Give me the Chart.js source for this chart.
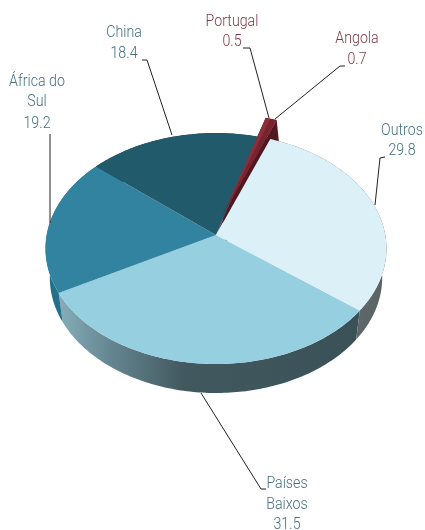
<!DOCTYPE html>
<html><head><meta charset="utf-8">
<style>html,body{margin:0;padding:0;background:#fff}canvas{display:block}</style>
<script src="https://cdn.jsdelivr.net/npm/chart.js@4"></script>
</head><body>
<canvas id="c" width="425" height="530"></canvas>
<script>
const categories = ["Países Baixos","África do Sul","China","Portugal","Angola","Outros"];
const shares = [31.5,19.2,18.4,0.5,0.7,29.8];
const topColors = ["#95cfe0","#31839f","#215a6a","#8e2e3a","#782430","#dcf0f8"];
const pulled = [0,0,0,20,20,0];
const startDeg = 128;

// perspective view of the pie disc
const view = {cx:216, cy:235, a:169.3, b:113.9, k:-0.117, depth:29, baseScale:0.975};
function project(u,v){const w=1+view.k*v;return [view.cx+view.a*u/w, view.cy+view.b*v/w];}

function mapper(el){
  return (x,y)=>project((x-el.x)/el.outerRadius,(y-el.y)/el.outerRadius);
}
function rimPoints(el,lower){
  const pts=[];const n=Math.max(4,Math.ceil((el.endAngle-el.startAngle)*60));
  for(let i=0;i<=n;i++){const t=el.startAngle+(el.endAngle-el.startAngle)*i/n;
    const p=project(Math.cos(t),Math.sin(t));
    pts.push(lower?[view.cx+(p[0]-view.cx)*view.baseScale,p[1]+view.depth]:p);}
  return pts;
}
const labels3d = [
  {lines:["Outros","29.8"],x:402,y:[131,151],c:"#45707f",lead:[[385,157],[380,158],[375,205]]},
  {lines:["Países","Baixos","31.5"],x:287,y:[484,505,525],c:"#45707f",lead:[[266,489],[261,489],[201,393]]},
  {lines:["África do","Sul","19.2"],x:37,y:[82,102,124],c:"#45707f",lead:[[50,134],[50,223]]},
  {lines:["China","18.4"],x:124,y:[33,54],c:"#45707f",lead:[[142,60],[147,60],[172,135]]},
  {lines:["Portugal","0.5"],x:232,y:[22,42],c:"#7a3a45",lead:[[243,48],[250,48],[269,118]]},
  {lines:["Angola","0.7"],x:357,y:[39,60],c:"#7a3a45",lead:[[345,66],[340,66],[275,119]]}
];
function sideFill(ctx,i){
  const name=categories[i];
  if(name==="Países Baixos"){const g=ctx.createLinearGradient(58,0,358,0);
    g.addColorStop(0,"#86aebb");g.addColorStop(.18,"#64858f");g.addColorStop(.42,"#42585f");g.addColorStop(1,"#3a5158");return g;}
  if(name==="Outros"){const g=ctx.createLinearGradient(358,0,386,0);
    g.addColorStop(0,"#5e6769");g.addColorStop(1,"#5a6264");return g;}
  if(name==="África do Sul")return "#23708a";
  return "#1c4d5b";
}
const pie3d={
  id:"pie3d",
  beforeDatasetsDraw(chart){
    const ctx=chart.ctx,els=chart.getDatasetMeta(0).data;
    ctx.save();
    els.forEach((el,i)=>{
      if(pulled[i])return;
      const top=rimPoints(el,false),bot=rimPoints(el,true).reverse();
      ctx.beginPath();
      top.concat(bot).forEach((p,j)=>j?ctx.lineTo(p[0],p[1]):ctx.moveTo(p[0],p[1]));
      ctx.closePath();ctx.fillStyle=sideFill(ctx,i);ctx.fill();
    });
    // both pulled wedges share one shift; body left behind, cut face, backing
    const iP=categories.indexOf("Portugal"),iA=categories.indexOf("Angola");
    const a0=els[iP].startAngle,a1=els[iA].endAngle,m=(a0+a1)/2;
    const d=[Math.cos(m)*pulled[iP],Math.sin(m)*pulled[iP]];
    const c=project(0,0),s0=project(Math.cos(a0),Math.sin(a0)),e0=project(Math.cos(a1),Math.sin(a1));
    const tri=(pts,col)=>{ctx.beginPath();pts.forEach((p,j)=>j?ctx.lineTo(p[0],p[1]):ctx.moveTo(p[0],p[1]));ctx.closePath();ctx.fillStyle=col;ctx.fill();};
    tri([c,s0,e0],"#6a2029");
    tri([[c[0]+d[0],c[1]+d[1]],[e0[0]+d[0],e0[1]+d[1]],[e0[0]+d[0]+3,e0[1]+d[1]+view.depth],[c[0]+d[0]+3,c[1]+d[1]+view.depth]],"#4f1820");
    tri([[c[0]+d[0],c[1]+d[1]],[s0[0]+d[0],s0[1]+d[1]],[e0[0]+d[0],e0[1]+d[1]]],"#782430");
    ctx.restore();
    // the library's own arc drawing, seen through the perspective map
    const map=mapper(els[0]);
    const P=CanvasRenderingContext2D.prototype;
    ctx.moveTo=function(x,y){const p=map(x,y);P.moveTo.call(ctx,p[0],p[1]);};
    ctx.lineTo=function(x,y){const p=map(x,y);P.lineTo.call(ctx,p[0],p[1]);};
    ctx.arc=function(x,y,r,s,e,acw){
      const n=Math.max(2,Math.ceil(Math.abs(e-s)*60));
      for(let i=0;i<=n;i++){const t=s+(e-s)*i/n;
        const p=map(x+r*Math.cos(t),y+r*Math.sin(t));P.lineTo.call(ctx,p[0],p[1]);}
    };
    els.forEach((el,i)=>{
      if(!pulled[i]||el.draw!==el.constructor.prototype.draw)return;
      const base=el.constructor.prototype.draw;
      el.draw=function(c2,area){
        c2.save();c2.translate(d[0],d[1]);base.call(el,c2,area);c2.restore();
      };
    });
  },
  afterDatasetsDraw(chart){
    const ctx=chart.ctx;delete ctx.moveTo;delete ctx.lineTo;delete ctx.arc;
  },
  afterDraw(chart){
    const ctx=chart.ctx;ctx.save();
    labels3d.forEach(l=>{
      ctx.beginPath();l.lead.forEach((p,j)=>j?ctx.lineTo(p[0],p[1]):ctx.moveTo(p[0],p[1]));
      ctx.strokeStyle="#222";ctx.lineWidth=1;ctx.stroke();
      ctx.fillStyle=l.c;ctx.font='300 16.5px Roboto,"Liberation Sans",sans-serif';
      ctx.textAlign="center";ctx.textBaseline="middle";
      l.lines.forEach((t,j)=>{
        ctx.save();ctx.translate(l.x,l.y[j]);ctx.scale(0.86,1);ctx.fillText(t,0,0);ctx.restore();
      });
    });
    ctx.restore();
  }
};
new Chart(document.getElementById("c"),{
  type:"pie",
  data:{labels:categories,datasets:[{data:shares,backgroundColor:topColors,borderWidth:0,hoverOffset:0}]},
  options:{responsive:false,animation:false,events:[],rotation:startDeg,
    layout:{padding:20},
    plugins:{legend:{display:false},tooltip:{enabled:false}}},
  plugins:[pie3d]
});
</script>
</body></html>
